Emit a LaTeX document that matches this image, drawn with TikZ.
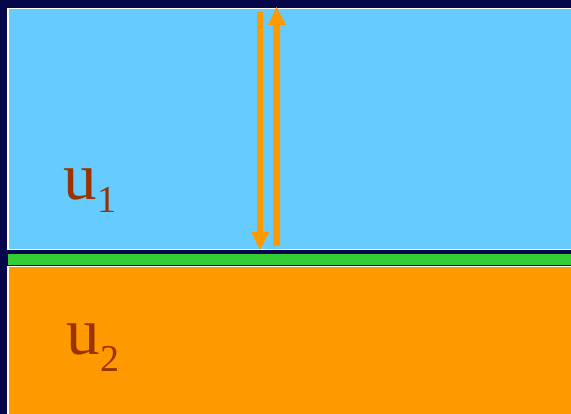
\documentclass[tikz,border=0pt]{standalone}
\usepackage{fontspec}
\setmainfont{Liberation Serif}
\definecolor{navy}{HTML}{06064A}
\definecolor{skyb}{HTML}{66CCFF}
\definecolor{grn}{HTML}{33CC33}
\definecolor{orng}{HTML}{FF9900}
\definecolor{brn}{HTML}{993300}
\tikzset{
  layer/.style={draw=white,line width=1.5pt},
  arrowfill/.style={fill=orng,draw=none},
  lab/.style={anchor=base west,inner sep=0pt,outer sep=0pt,text=brn}
}
\newcommand{\bigu}{\fontsize{67}{67}\selectfont u}
\newcommand{\subn}[2]{\raisebox{-#2pt}{\fontsize{38}{38}\selectfont #1}}
\begin{document}
\begin{tikzpicture}[x=1pt,y=-1pt]
\fill[navy] (0,0) rectangle (571,414);
\useasboundingbox (0,0) rectangle (571,414);
% upper layer
\filldraw[layer,fill=skyb] (8,8.5) rectangle (580,249.5);
% green interface
\fill[grn] (8,254) rectangle (580,265.5);
% lower layer
\filldraw[layer,fill=orng] (8,266.5) rectangle (580,420);
% down arrow
\fill[arrowfill] (257,12) -- (263,12) -- (263,232) -- (269,232) -- (260,250) -- (251,232) -- (257,232) -- cycle;
% up arrow
\fill[arrowfill] (273,246) -- (280,246) -- (280,25) -- (286,25) -- (276.5,7) -- (268,25) -- (273,25) -- cycle;
\node[lab] (u1) at (63.5,200) {\bigu\subn{1}{13}};
\node[lab] (u2) at (66.5,355) {\bigu\subn{2}{17}};
\end{tikzpicture}
\end{document}
